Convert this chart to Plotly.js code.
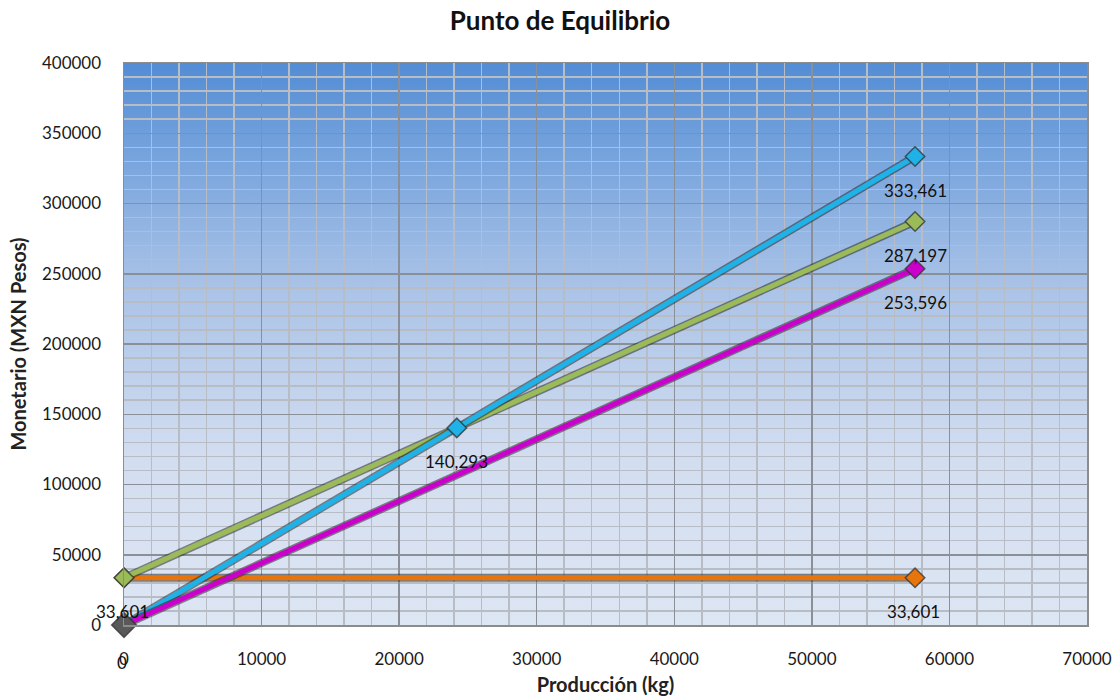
<!DOCTYPE html>
<html>
<head>
<meta charset="utf-8">
<script src="https://cdn.plot.ly/plotly-3.0.1.min.js"></script>
<style>
  html, body { margin: 0; padding: 0; background: #ffffff; }
  #chart { width: 1120px; height: 700px; }
</style>
</head>
<body>
<div id="chart"></div>
<script>
// ---- Data ----
const originX = [0];
const originY = [0];

const fixedX = [0, 57500];
const fixedCost = [33601, 33601];

const totalX = [0, 57500];
const totalCost = [33601, 287197];

const revenueX = [0, 24190, 57500];
const revenue = [0, 140293, 333461];

const variableX = [0, 57500];
const variableCost = [0, 253596];

const xTicks = [0, 10000, 20000, 30000, 40000, 50000, 60000, 70000];
const yTicks = [0, 50000, 100000, 150000, 200000, 250000, 300000, 350000, 400000];

// which points carry a data label (index lists per series)
const labelledFixed = [0, 1];
const labelledTotal = [1];
const labelledRevenue = [1, 2];
const labelledVariable = [1];
const labelledOrigin = [0];

const FONT = 'Lato, "Open Sans", "Noto Sans", sans-serif';

const colors = {
  origin: '#595959',
  fixed: '#e8740c',
  total: '#9bbb59',
  revenue: '#1fb2e8',
  variable: '#cc00cc'
};

function lineTraces(xs, ys, color, name, withLine, msize) {
  const out = [];
  if (withLine) {
    out.push({
      x: xs, y: ys, type: 'scatter', mode: 'lines',
      line: { color: 'rgba(40,40,40,0.55)', width: 8 },
      hoverinfo: 'skip', showlegend: false, cliponaxis: false
    });
  }
  out.push({
    x: xs, y: ys, type: 'scatter', mode: withLine ? 'lines+markers' : 'markers',
    name: name, cliponaxis: false,
    line: { color: color, width: 5 },
    marker: { symbol: 'diamond', size: msize || 15, color: color,
              line: { color: 'rgba(50,50,50,0.75)', width: 1.5 } },
    showlegend: false
  });
  return out;
}

const traces = [].concat(
  lineTraces(fixedX, fixedCost, colors.fixed, 'Costo fijo', true),
  lineTraces(totalX, totalCost, colors.total, 'Costo total', true),
  lineTraces(revenueX, revenue, colors.revenue, 'Ingresos', true),
  lineTraces(variableX, variableCost, colors.variable, 'Costo variable', true),
  lineTraces(originX, originY, colors.origin, 'Origen', false, 19)
);

function labels(xs, ys, idx, dx, dy) {
  return idx.map(i => ({
    x: xs[i], y: ys[i], xref: 'x', yref: 'y',
    text: ys[i].toLocaleString('en-US'),
    showarrow: false, yshift: dy === undefined ? -34 : dy, xshift: dx || 0,
    font: { family: FONT, size: 17, color: '#111111' }
  }));
}

const annotations = [].concat(
  labels(fixedX, fixedCost, labelledFixed, -2, -34),
  labels(totalX, totalCost, labelledTotal),
  labels(revenueX, revenue, labelledRevenue),
  labels(variableX, variableCost, labelledVariable),
  labels(originX, originY, labelledOrigin, -2, -37)
);

// gradient plot background via SVG data URI
const gradSvg = '<svg xmlns="http://www.w3.org/2000/svg" width="100" height="100" preserveAspectRatio="none">' +
  '<defs><linearGradient id="g" x1="0" y1="0" x2="0" y2="1">' +
  '<stop offset="0" stop-color="#538dd5"/>' +
  '<stop offset="0.4" stop-color="#aac3e7"/>' +
  '<stop offset="0.7" stop-color="#d2ddf0"/>' +
  '<stop offset="1" stop-color="#dde6f3"/>' +
  '</linearGradient></defs><rect width="100" height="100" fill="url(#g)"/></svg>';
const gradUri = 'data:image/svg+xml;base64,' + btoa(gradSvg);

const axisCommon = {
  showline: true, linecolor: '#8c8c8c', linewidth: 1.5, mirror: true,
  showgrid: true, gridcolor: '#8a8f98', gridwidth: 1.5,
  zeroline: false, ticks: '', tickformat: 'd',
  tickfont: { family: FONT, size: 17, color: '#1a1a1a' },
  ticklabelstandoff: 18
};

const layout = {
  width: 1120, height: 700,
  margin: { l: 124, r: 33, t: 63, b: 75 },
  paper_bgcolor: '#ffffff',
  plot_bgcolor: 'rgba(0,0,0,0)',
  title: {
    text: '<b>Punto de Equilibrio</b>',
    font: { family: FONT, size: 26, color: '#111111' },
    x: 0.5, xanchor: 'center', y: 0.97, yanchor: 'middle', yref: 'container'
  },
  xaxis: Object.assign({}, axisCommon, {
    range: [0, 70000], tickvals: xTicks,
    minor: { dtick: 2000, showgrid: true, gridcolor: '#b8bcc4', gridwidth: 1.5 },
    title: { text: '<b>Producción (kg)</b>', font: { family: FONT, size: 20, color: '#222222' }, standoff: 10 }
  }),
  yaxis: Object.assign({}, axisCommon, {
    range: [0, 400000], tickvals: yTicks,
    minor: { dtick: 10000, showgrid: true, gridcolor: '#b8bcc4', gridwidth: 1.5 },
    title: { text: '<b>Monetario (MXN Pesos)</b>', font: { family: FONT, size: 20, color: '#222222' }, standoff: 10 }
  }),
  images: [{
    source: gradUri, xref: 'paper', yref: 'paper', x: 0, y: 1,
    sizex: 1, sizey: 1, xanchor: 'left', yanchor: 'top',
    sizing: 'stretch', layer: 'below'
  }],
  annotations: annotations,
  showlegend: false
};

Plotly.newPlot('chart', traces, layout, { displayModeBar: false, staticPlot: true });
</script>
</body>
</html>
